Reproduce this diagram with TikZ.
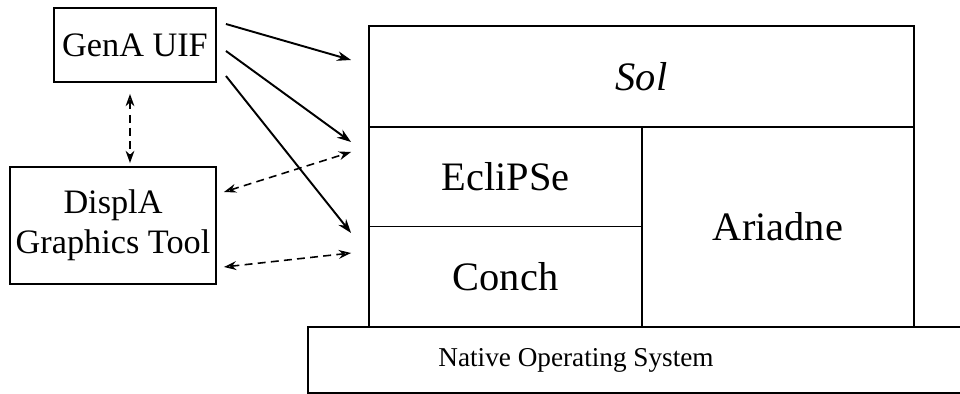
\documentclass[tikz,border=0pt]{standalone}
\usepackage{fontspec}
\setmainfont{Liberation Serif}
\usetikzlibrary{arrows.meta}
\begin{document}
\begin{tikzpicture}[x=0.02cm, y=-0.02cm,
    box/.style={draw, line width=1.1pt, inner sep=0pt},
    big/.style={font=\fontsize{23}{27}\selectfont},
    mid/.style={font=\fontsize{19.5}{23}\selectfont, align=center},
    solid arrow/.style={line width=1.1pt, -{Stealth[length=8pt,width=5.5pt]}},
    dash arrow/.style={line width=0.9pt, dash pattern=on 4.5pt off 3pt}]
	\useasboundingbox (0,0) rectangle (960,394);
	\node[box, mid, minimum width=3.24cm, minimum height=1.48cm] (genA) at (135,45) {GenA UIF};
	\node[box, mid, minimum width=4.12cm, minimum height=2.34cm] (displA) at (113,225.5) {DisplA\\Graphics Tool};
	\node[box, big, minimum width=10.9cm, minimum height=2.02cm] (sol) at (641.5,76.5) {\itshape Sol};
	\node[box, big, minimum width=5.46cm, minimum height=2cm] (eclipse) at (505.5,176.5) {EcliPSe};
	\node[box, big, minimum width=5.46cm, minimum height=2cm] (conch) at (505.5,276.5) {Conch};
	\node[box, big, minimum width=5.44cm, minimum height=4cm] (ariadne) at (778,227) {Ariadne};
	\draw[line width=1.1pt] (308,327) rectangle (1000,393);
	\node[font=\fontsize{15.5}{18}\selectfont] (native) at (576,360) {Native Operating System};
	\draw[solid arrow] ([shift={(9,-21)}]genA.east) -- ([shift={(-17,-16.5)}]sol.west);
	\draw[solid arrow] ([shift={(9,6)}]genA.east) -- ([shift={(-17,-34.5)}]eclipse.west);
	\draw[solid arrow] ([shift={(9,31)}]genA.east) -- ([shift={(-17,-43.5)}]conch.west);
	\draw[dash arrow, {Stealth[open,length=7pt,width=5pt]}-{Stealth[length=7pt,width=5pt]}] ([shift={(-5,11)}]genA.south) -- ([shift={(17,-3)}]displA.north);
	\draw[dash arrow, {Stealth[open,length=7pt,width=5pt]}-{Stealth[length=7pt,width=5pt]}] ([shift={(7,-33.5)}]displA.east) -- ([shift={(-17,-24.5)}]eclipse.west);
	\draw[dash arrow, {Stealth[open,length=7pt,width=5pt]}-{Stealth[open,length=7pt,width=5pt]}] ([shift={(7,41.5)}]displA.east) -- ([shift={(-17,-23.5)}]conch.west);
\end{tikzpicture}
\end{document}
